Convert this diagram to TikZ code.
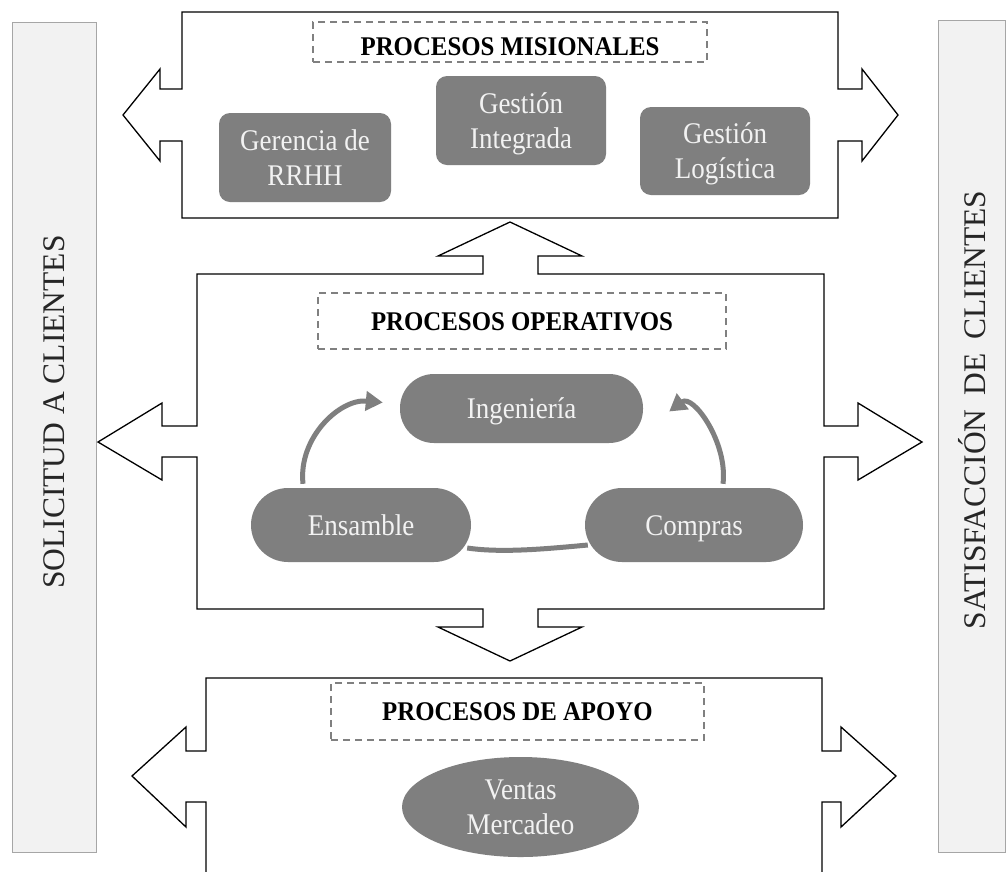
\documentclass[tikz,border=0pt]{standalone}
\usepackage{fontspec}
\setmainfont{Liberation Serif}
\newfontfamily\condfont[FakeStretch=0.9]{Liberation Serif}
\newfontfamily\titlefont[FakeStretch=0.92]{Liberation Serif}
\usetikzlibrary{arrows.meta,shapes.geometric,calc}
\definecolor{nodegray}{HTML}{7F7F7F}
\definecolor{nodetext}{HTML}{F2F2F2}
\definecolor{dashgray}{HTML}{808080}
\definecolor{barfill}{HTML}{F2F2F2}
\definecolor{barline}{HTML}{A6A6A6}
\begin{document}
\begin{tikzpicture}[x=1pt,y=-1pt,
  frame/.style={draw=black, line width=1.3pt, line join=miter},
  titlebox/.style={draw=dashgray, dash pattern=on 7pt off 5pt, line width=1.5pt, inner sep=0pt,
    text height=18pt, text depth=0pt, font=\titlefont\fontsize{27}{30}\selectfont\bfseries},
  gbox/.style={fill=nodegray, text=nodetext, inner sep=0pt, align=center, font=\condfont\fontsize{30}{35}\selectfont},
  twoline/.style={text height=55pt, text depth=0pt},
  oneline/.style={text height=20pt, text depth=0pt},
  garrow/.style={draw=nodegray, line width=5pt, -{Triangle[length=17pt,width=19pt]}},
  gline/.style={draw=nodegray, line width=5pt},
  sidebar/.style={fill=barfill, draw=barline, line width=1pt},
  sidetext/.style={rotate=90, inner sep=0pt, font=\fontsize{31.5}{34}\selectfont, text=black!85}
]
\useasboundingbox[fill=white] (0,0) rectangle (1006,871);

% side bars
\draw[sidebar] (12,22) rectangle (96,852);
\draw[sidebar] (938,20) rectangle (1005,852);
\node[sidetext] (sol) at (54,412) {SOLICITUD A CLIENTES};
\node[sidetext] (sat) at (972,410) {SATISFACCIÓN\hspace{14pt}DE\hspace{14pt}CLIENTES};

% frame: procesos misionales
\draw[frame] (182,12) -- (838,12) -- (838,89) -- (862,89) -- (862,69) -- (898,115)
  -- (862,161) -- (862,141) -- (838,141) -- (838,218) -- (182,218) -- (182,141)
  -- (160,141) -- (160,161) -- (123,115) -- (160,69) -- (160,89) -- (182,89) -- cycle;

% frame: procesos operativos
\draw[frame] (197,274) -- (483,274) -- (483,256) -- (438,256) -- (510,222) -- (582,256)
  -- (538,256) -- (538,274) -- (824,274) -- (824,426) -- (858,426) -- (858,403)
  -- (922,442) -- (858,480) -- (858,457) -- (824,457) -- (824,609) -- (538,609)
  -- (538,627) -- (582,627) -- (510,661) -- (438,627) -- (483,627) -- (483,609)
  -- (197,609) -- (197,457) -- (162,457) -- (162,480) -- (98,442) -- (162,403)
  -- (162,426) -- (197,426) -- cycle;

% frame: procesos de apoyo
\draw[frame] (206,873) -- (206,802) -- (186,802) -- (186,827) -- (132,776) -- (186,727)
  -- (186,751) -- (206,751) -- (206,678) -- (822,678) -- (822,751) -- (841,751)
  -- (841,727) -- (896,776) -- (841,827) -- (841,802) -- (822,802) -- (822,873);

% titles
\node[titlebox, minimum width=394pt, minimum height=40pt, text height=27pt] (tmis) at (510,42) {PROCESOS MISIONALES};
\node[titlebox, minimum width=408pt, minimum height=56pt] (tope) at (522,321) {PROCESOS OPERATIVOS};
\node[titlebox, minimum width=373pt, minimum height=57pt] (tapo) at (517.5,711.5) {PROCESOS DE APOYO};

% misional nodes
\node[gbox, twoline, rounded corners=11pt, minimum width=172pt, minimum height=89pt] (rrhh) at (305,157.5) {Gerencia de\\RRHH};
\node[gbox, twoline, rounded corners=11pt, minimum width=170pt, minimum height=89pt] (integ) at (521,120.5) {Gestión\\Integrada};
\node[gbox, twoline, rounded corners=11pt, minimum width=170pt, minimum height=88pt] (logis) at (725,151) {Gestión\\Logística};

% operative nodes
\node[gbox, oneline, rounded corners=34pt, minimum width=243pt, minimum height=69pt] (ing) at (521.5,408.5) {Ingeniería};
\node[gbox, oneline, rounded corners=37pt, minimum width=220pt, minimum height=74pt] (ens) at (361,525) {Ensamble};
\node[gbox, oneline, rounded corners=37pt, minimum width=218pt, minimum height=74pt] (comp) at (694,525) {Compras};

% support node
\node[gbox, twoline, ellipse, minimum width=237pt, minimum height=100pt] (ven) at (520.5,807) {Ventas\\Mercadeo};

% connectors
\draw[garrow] ($(ens.north)+(-58,-4)$) .. controls ($(ens.north)+(-63,-50)$) and ($(ing.west)+(-60,-10)$) .. ($(ing.west)+(-17,-6)$);
\draw[garrow] ($(comp.north)+(29,-4)$) .. controls ($(comp.north)+(34,-45)$) and ($(ing.east)+(50,-15)$) .. ($(ing.east)+(26,3)$);
\draw[gline] ($(ens.east)+(-4,23)$) .. controls ($(ens.east)+(30,28)$) and ($(comp.west)+(-40,24)$) .. ($(comp.west)+(3,20)$);
\end{tikzpicture}
\end{document}
